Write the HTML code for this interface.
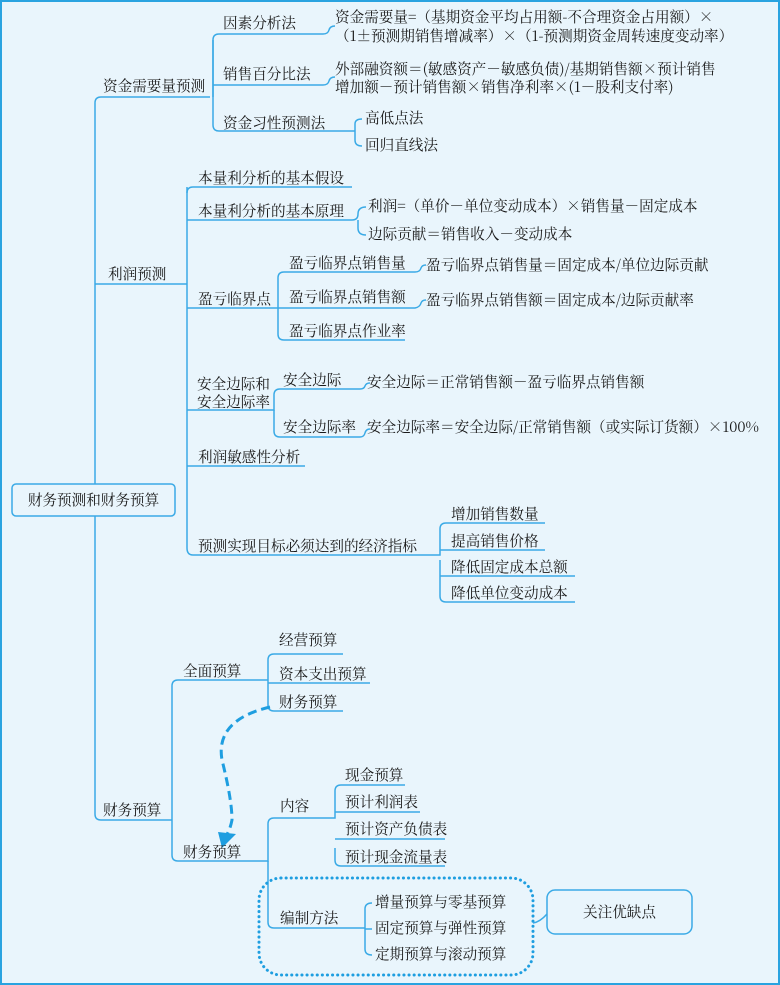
<!DOCTYPE html>
<html><head><meta charset="utf-8"><style>
html,body{margin:0;padding:0;background:#e9f5fc}
svg{display:block}
text{font-family:"Noto Serif CJK SC","Liberation Serif",serif;font-size:14.6px;fill:#1a1a1a}
.l{fill:none;stroke:#3aaae6;stroke-width:1.5}
</style></head><body>
<svg width="780" height="985" viewBox="0 0 780 985" xmlns="http://www.w3.org/2000/svg">
<rect x="1" y="1" width="778" height="983" fill="#e9f5fc" stroke="#29a3e0" stroke-width="2"/>
<g class="l">
<path d="M210 97H101Q95 97 95 103V814Q95 820 101 820H172"/>
<path d="M95 284H187"/>
<path d="M213 97V40Q213 34 219 34H323Q328 34 329 30Q330 26 335 26"/>
<path d="M213 40V125Q213 131 219 131H352"/>
<path d="M213 85H323Q328 85 329 81Q330 77 335 77"/>
<path d="M352 131H355V124Q355 119 362 119M355 131V140Q355 146 362 146"/>
<path d="M187 187V548Q187 555 193 555H438"/>
<path d="M187 193Q187 187 193 187H352"/>
<path d="M187 220H352Q358 220 358 214Q358 207 366 207M358 220V228Q358 235 366 235"/>
<path d="M187 308H278V278Q278 272 284 272H415Q420 272 421 268Q422 265 426 265"/>
<path d="M278 308H415Q420 307 421 303Q422 300 426 300"/>
<path d="M278 308V334Q278 340 284 340H405"/>
<path d="M187 410H274V395Q274 389 280 389H360Q364 389 365 386Q366 383 370 383"/>
<path d="M274 410V431Q274 437 280 437H360Q364 437 365 433Q366 429 370 429"/>
<path d="M187 466H305"/>
<path d="M438 555H440V529Q440 523 446 523H545M440 550H545M440 576H575M440 560V596Q440 602 446 602H575"/>
<path d="M172 820V686Q172 680 178 680H268V660Q268 654 274 654H343M268 683H370M268 680V705Q268 711 274 711H343"/>
<path d="M172 820V855Q172 861 178 861H268V824Q268 818 274 818H333"/>
<path d="M268 861V922Q268 928 274 928H365"/>
<path d="M333 818H335V791Q335 785 341 785H405M335 812H420M335 839H445M335 848V860Q335 866 341 866H445"/>
<path d="M365 928V909Q365 903 372 903M365 928V949Q365 955 372 955M365 929H372"/>
</g>
<rect x="12" y="484" width="163" height="32" rx="4" fill="#e9f5fc" stroke="#3aaae6" stroke-width="1.5"/>
<text x="93.5" y="505" text-anchor="middle">财务预测和财务预算</text>
<rect x="259" y="878" width="274" height="97" rx="22" fill="none" stroke="#1e9ee0" stroke-width="3" stroke-dasharray="0.1 5" stroke-linecap="round"/>
<rect x="547" y="890" width="145" height="44" rx="8" fill="#e9f5fc" stroke="#3aaae6" stroke-width="1.5"/>
<path d="M533 923Q540 922 547 914" fill="none" stroke="#3aaae6" stroke-width="1.5"/>
<text x="619.5" y="917" text-anchor="middle">关注优缺点</text>
<path d="M270 707Q215 720 222 760Q232 800 232 820Q230 830 226 836" fill="none" stroke="#1e9ee0" stroke-width="3" stroke-dasharray="9 5"/>
<path d="M218 832L236 834L222 848Z" fill="#1e9ee0"/>
<text x="103" y="91">资金需要量预测</text>
<text x="223" y="28">因素分析法</text>
<text x="335" y="22">资金需要量=（基期资金平均占用额-不合理资金占用额）×</text>
<text x="335" y="41">（1±预测期销售增减率）×（1-预测期资金周转速度变动率）</text>
<text x="223" y="79">销售百分比法</text>
<text x="335" y="74">外部融资额＝(敏感资产－敏感负债)/基期销售额×预计销售</text>
<text x="335" y="92">增加额－预计销售额×销售净利率×(1－股利支付率)</text>
<text x="223" y="128">资金习性预测法</text>
<text x="365" y="123">高低点法</text>
<text x="365" y="150">回归直线法</text>
<text x="108" y="279">利润预测</text>
<text x="198" y="183">本量利分析的基本假设</text>
<text x="198" y="216">本量利分析的基本原理</text>
<text x="368" y="211">利润=（单价－单位变动成本）×销售量－固定成本</text>
<text x="368" y="239">边际贡献＝销售收入－变动成本</text>
<text x="198" y="304">盈亏临界点</text>
<text x="289" y="268">盈亏临界点销售量</text>
<text x="426" y="270">盈亏临界点销售量＝固定成本/单位边际贡献</text>
<text x="289" y="302">盈亏临界点销售额</text>
<text x="426" y="305">盈亏临界点销售额＝固定成本/边际贡献率</text>
<text x="289" y="336">盈亏临界点作业率</text>
<text x="197" y="389">安全边际和</text>
<text x="197" y="407">安全边际率</text>
<text x="283" y="385">安全边际</text>
<text x="367" y="387">安全边际＝正常销售额－盈亏临界点销售额</text>
<text x="283" y="432">安全边际率</text>
<text x="367" y="432">安全边际率＝安全边际/正常销售额（或实际订货额）×100%</text>
<text x="198" y="462">利润敏感性分析</text>
<text x="198" y="551">预测实现目标必须达到的经济指标</text>
<text x="451" y="519">增加销售数量</text>
<text x="451" y="546">提高销售价格</text>
<text x="451" y="572">降低固定成本总额</text>
<text x="451" y="598">降低单位变动成本</text>
<text x="103" y="815">财务预算</text>
<text x="183" y="676">全面预算</text>
<text x="279" y="645">经营预算</text>
<text x="279" y="679">资本支出预算</text>
<text x="279" y="707">财务预算</text>
<text x="183" y="857">财务预算</text>
<text x="280" y="811">内容</text>
<text x="345" y="780">现金预算</text>
<text x="345" y="807">预计利润表</text>
<text x="345" y="834">预计资产负债表</text>
<text x="345" y="862">预计现金流量表</text>
<text x="280" y="923">编制方法</text>
<text x="375" y="907">增量预算与零基预算</text>
<text x="375" y="933">固定预算与弹性预算</text>
<text x="375" y="959">定期预算与滚动预算</text>
</svg>
</body></html>
